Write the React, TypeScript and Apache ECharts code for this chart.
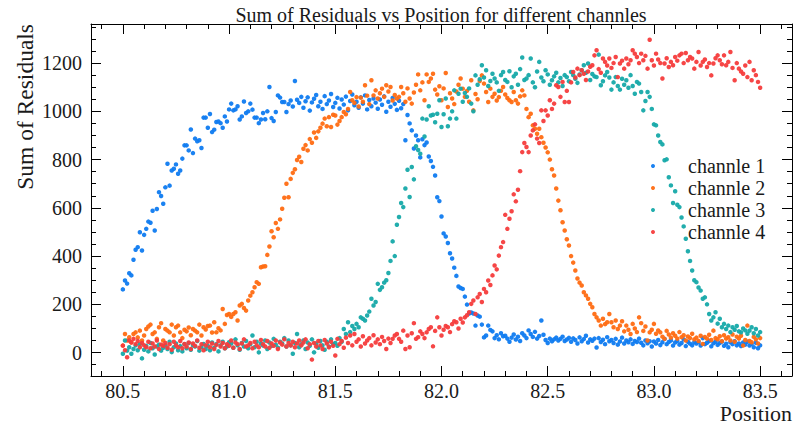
import React, { useEffect, useRef } from "react";
import * as echarts from "echarts";

// Sampling of the position axis (one point per channel at each step)
const positionStart = 80.5;
const positionStep = 0.01;

const channelNames = ["channle 1", "channle 2", "channle 3", "channle 4"];
const channelColors = ["#0F7BF0", "#FF6B12", "#16A9A9", "#F53C3C"];

const channle1 = [
  262, 299, 286, 329, 320, 385, 426, 437, 499, 423,
  488, 513, 543, 538, 588, 506, 595, 665, 649, 617,
  685, 783, 692, 755, 762, 780, 741, 755, 804, 859,
  859, 838, 925, 827, 887, 876, 880, 848, 974, 974,
  932, 989, 914, 924, 956, 958, 951, 932, 979, 958,
  1008, 1032, 1004, 1008, 1021, 966, 979, 1041, 993, 1000,
  1032, 1007, 974, 974, 951, 966, 993, 967, 1000, 1101,
  972, 960, 997, 1066, 1057, 1039, 1039, 997, 1030, 1045,
  1020, 1126, 1048, 1035, 1060, 1015, 1042, 1058, 1003, 1037,
  1052, 1068, 1021, 1040, 1010, 1063, 1030, 1045, 1072, 1018,
  1035, 1056, 1012, 1049, 1028, 1061, 1004, 1043, 1070, 1025,
  1040, 1015, 1058, 1032, 1066, 1008, 1047, 1021, 1053, 1036,
  1011, 1049, 1027, 1062, 998, 1040, 1019, 1055, 1031, 1006,
  1044, 1013, 1030, 880, 985, 950, 921, 846, 900, 880,
  809, 884, 860, 871, 813, 794, 770, 734, 644, 628,
  564, 494, 481, 454, 412, 390, 352, 318, 274, 268,
  264, 232, 199, 162, 166, 162, 112, 154, 149, 116,
  63, 71, 112, 94, 88, 60, 72, 55, 80, 68,
  70, 58, 45, 62, 75, 54, 66, 48, 80, 71,
  60, 92, 77, 65, 86, 58, 69, 133, 74, 52,
  40, 58, 47, 55, 62, 50, 57, 66, 48, 54,
  61, 45, 59, 52, 38, 63, 47, 56, 70, 42,
  55, 49, 58, 21, 60, 44, 53, 35, 64, 47,
  52, 40, 57, 33, 46, 62, 38, 50, 43, 55,
  36, 48, 44, 58, 41, 30, 50, 39, 47, 25,
  46, 38, 52, 31, 43, 57, 35, 44, 50, 29,
  42, 48, 33, 40, 55, 27, 45, 37, 30, 43,
  38, 44, 29, 60, 35, 41, 48, 26, 39, 45,
  32, 40, 46, 28, 37, 22, 43, 35, 47, 30,
  38, 27, 42, 33, 45, 29, 36, 22, 41, 18,
  30,
];

const channle2 = [
  29, 77, 50, 64, 43, 77, 84, 63, 91, 50,
  71, 98, 108, 116, 77, 84, 57, 105, 122, 50,
  98, 91, 84, 116, 71, 105, 112, 84, 60, 95,
  88, 104, 72, 98, 91, 84, 116, 71, 105, 96,
  110, 112, 83, 126, 84, 101, 92, 181, 119, 156,
  160, 148, 160, 167, 133, 195, 202, 185, 174, 216,
  236, 250, 271, 292, 285, 354, 357, 358, 405, 440,
  503, 478, 537, 513, 552, 596, 642, 700, 644, 720,
  745, 760, 798, 812, 790, 845, 860, 838, 885, 870,
  912, 890, 917, 932, 949, 970, 938, 976, 935, 986,
  983, 945, 960, 976, 997, 988, 1010, 1080, 1046, 1035,
  1059, 1020, 1057, 1040, 1108, 1065, 1030, 1129, 1066, 1087,
  1053, 1075, 1094, 1060, 1108, 1082, 1101, 1045, 1068, 1053,
  1060, 1101, 1075, 1040, 1095, 1053, 1032, 1078, 1110, 1153,
  1087, 1120, 1046, 1153, 1122, 1136, 1156, 1090, 1070, 1104,
  1046, 1095, 1159, 1018, 1075, 1053, 1030, 1082, 1110, 1136,
  1094, 1060, 1085, 1040, 1129, 1004, 1072, 1050, 1126, 1149,
  1115, 1080, 1039, 1094, 1060, 1073, 1045, 1059, 1085, 1101,
  1070, 1055, 1046, 1039, 1080, 1046, 1032, 1062, 1087, 1066,
  1010, 976, 990, 942, 928, 907, 928, 893, 870, 850,
  830, 800, 760, 734, 680, 630, 590, 540, 506, 470,
  444, 400, 373, 340, 307, 290, 278, 250, 237, 223,
  202, 188, 160, 146, 133, 112, 140, 118, 126, 160,
  126, 105, 133, 98, 112, 130, 88, 112, 95, 77,
  119, 100, 85, 146, 122, 90, 108, 50, 84, 95,
  119, 78, 92, 84, 66, 57, 90, 75, 62, 80,
  70, 58, 85, 64, 72, 50, 67, 60, 78, 55,
  62, 48, 70, 36, 65, 58, 74, 52, 91, 60,
  55, 68, 47, 72, 58, 64, 50, 75, 45, 66,
  58, 70, 29, 52, 112, 48, 43, 65, 55, 38,
  60,
];

const channle3 = [
  -5, 50, 8, 22, -5, 15, 30, 10, 35, -24,
  12, 28, 5, 40, 18, -8, 25, 33, 8, 20,
  30, 15, 45, 2, 22, 38, 10, 27, 5, 35,
  18, 40, 12, 30, 25, 48, 8, 22, 36, 15,
  28, 10, 42, 20, 35, 5, 30, 45, 18, 25,
  43, 38, 20, 55, 30, 12, 40, 25, 48, 18,
  35, 71, 22, 45, 1, 38, 29, 50, 15, 42,
  28, 57, 33, 20, 45, 38, 60, 25, 50, 30,
  -5, 40, 77, 22, 35, 50, 15, 42, 28, 55,
  1, 38, 20, 48, 30, 12, 45, 25, 55, 35,
  40, 28, 60, 45, 98, 77, 126, 85, 110, 98,
  119, 105, 146, 140, 133, 154, 170, 223, 195, 210,
  285, 260, 271, 290, 300, 330, 380, 461, 400, 530,
  562, 620, 603, 680, 758, 645, 769, 718, 855, 840,
  824, 970, 896, 966, 1021, 983, 986, 955, 990, 1046,
  935, 988, 1053, 938, 970, 1000, 1087, 970, 1073, 1094,
  1040, 1076, 1060, 1095, 1032, 1000, 1149, 1110, 1133, 1191,
  1140, 1170, 1105, 1126, 1156, 1136, 1120, 1085, 1150, 1163,
  1130, 1122, 1166, 1100, 1145, 1156, 1110, 1175, 1223, 1130,
  1136, 1150, 1219, 1120, 1100, 1165, 1205, 1140, 1125, 1170,
  1153, 1110, 1129, 1145, 1160, 1120, 1138, 1105, 1150, 1142,
  1125, 1163, 1150, 1135, 1118, 1153, 1170, 1191, 1160, 1198,
  1130, 1155, 1145, 1142, 1235, 1108, 1125, 1149, 1163, 1140,
  1090, 1120, 1142, 1105, 1090, 1135, 1110, 1129, 1098, 1150,
  1105, 1073, 1122, 1115, 1080, 1004, 1043, 1080, 1060, 1010,
  946, 942, 900, 873, 863, 797, 801, 727, 693, 620,
  669, 613, 603, 560, 523, 472, 420, 380, 340, 300,
  292, 270, 257, 223, 229, 200, 160, 133, 146, 167,
  120, 140, 105, 119, 98, 112, 85, 105, 95, 110,
  88, 84, 100, 92, 78, 91, 105, 80, 98, 71,
  85,
];

const channle4 = [
  29, 10, -19, 50, 42, 57, 35, 48, 22, 40,
  30, 22, 45, 18, 38, 25, 50, 15, 33, 28,
  40, 20, 35, 12, 45, 30, 22, 48, 18, 36,
  25, 42, 15, 38, 28, 50, 20, 35, 10, 30,
  45, 22, 38, 15, 32, 48, 25, 40, 18, 35,
  28, 50, 20, 42, 35, 15, 38, 55, 25, 30,
  40, 18, 45, 30, 22, 52, 35, 25, 48, 20,
  38, 28, 50, 15, 42, 33, 55, 25, 40, 30,
  45, 22, 38, 50, 30, 42, 55, 18, 35, -29,
  40, 25, 48, 30, 15, 52, 38, 22, 45, 28,
  -12, 57, 35, 48, 20, 62, 40, 71, 30, 77,
  45, 55, 25, 68, 38, 50, 60, 30, 72, 42,
  55, 35, 65, 48, 15, 58, 40, 57, 71, 77,
  57, 45, 91, 15, 71, 22, 80, 122, 57, 64,
  88, 77, 60, 84, 98, 105, 26, 90, 146, 105,
  71, 95, 110, 105, 85, 118, 130, 126, 100, 140,
  125, 146, 155, 167, 202, 216, 160, 229, 243, 210,
  264, 250, 299, 280, 320, 361, 345, 402, 437, 458,
  571, 513, 555, 586, 656, 627, 675, 752, 831, 869,
  852, 831, 900, 921, 946, 887, 869, 1004, 960, 1004,
  983, 1046, 1010, 1032, 1108, 1101, 1060, 1122, 1039, 1085,
  1039, 1120, 1163, 1140, 1177, 1150, 1170, 1156, 1130, 1165,
  1185, 1191, 1232, 1253, 1175, 1160, 1219, 1205, 1190, 1219,
  1180, 1200, 1225, 1142, 1198, 1210, 1177, 1219, 1195, 1212,
  1253, 1239, 1225, 1200, 1239, 1212, 1230, 1177, 1297, 1212,
  1190, 1239, 1215, 1200, 1136, 1198, 1220, 1184, 1205, 1191,
  1225, 1210, 1232, 1239, 1200, 1242, 1212, 1225, 1219, 1177,
  1205, 1246, 1190, 1205, 1215, 1184, 1200, 1149, 1198, 1220,
  1232, 1212, 1195, 1232, 1191, 1205, 1246, 1180, 1129, 1200,
  1177, 1165, 1156, 1190, 1142, 1205, 1129, 1170, 1150, 1122,
  1098,
];

const channels = [channle1, channle2, channle3, channle4];

const xMajorTicks = [80.5, 81.0, 81.5, 82.0, 82.5, 83.0, 83.5];
const xMinorTicks = [
  80.4, 80.5, 80.6, 80.7, 80.8, 80.9, 81.0, 81.1, 81.2, 81.3, 81.4, 81.5,
  81.6, 81.7, 81.8, 81.9, 82.0, 82.1, 82.2, 82.3, 82.4, 82.5, 82.6, 82.7,
  82.8, 82.9, 83.0, 83.1, 83.2, 83.3, 83.4, 83.5, 83.6,
];
const yMajorTicks = [0, 200, 400, 600, 800, 1000, 1200];
const yMinorTicks = [
  -50, 0, 50, 100, 150, 200, 250, 300, 350, 400, 450, 500, 550, 600, 650,
  700, 750, 800, 850, 900, 950, 1000, 1050, 1100, 1150, 1200, 1250, 1300, 1350,
];

const xMin = 80.35;
const xMax = 83.65;
const yMin = -97;
const yMax = 1362;

const FONT = "'Liberation Serif', 'Times New Roman', 'DejaVu Serif', serif";
const TEXT = "#1a1a1a";

function makeAxis(kind: "x" | "y", position: string, major: boolean, labels: boolean) {
  const ticks = kind === "x" ? (major ? xMajorTicks : xMinorTicks) : major ? yMajorTicks : yMinorTicks;
  return {
    type: "value",
    position,
    min: kind === "x" ? xMin : yMin,
    max: kind === "x" ? xMax : yMax,
    axisLine: { show: major, onZero: false, lineStyle: { color: "#000", width: 1 } },
    axisTick: {
      show: true,
      inside: true,
      length: major ? 10 : 5,
      customValues: ticks,
      lineStyle: { color: "#000", width: 1 },
    },
    minorTick: { show: false },
    splitLine: { show: false },
    axisLabel: labels
      ? {
          show: true,
          customValues: ticks,
          fontFamily: FONT,
          fontSize: 20,
          lineHeight: 18,
          color: TEXT,
          margin: kind === "x" ? 6 : 9,
          formatter: (v: number) => (kind === "x" ? v.toFixed(1) : String(Math.round(v))),
        }
      : { show: false },
  };
}

export default function App() {
  const ref = useRef<HTMLDivElement>(null);

  useEffect(() => {
    if (!ref.current) return;
    const chart = echarts.init(ref.current, undefined, { renderer: "svg" });

    const series = channels.map((vals, k) => ({
      name: channelNames[k],
      type: "scatter",
      xAxisIndex: 0,
      yAxisIndex: 0,
      symbol: "circle",
      symbolSize: 4.5,
      itemStyle: { color: channelColors[k], opacity: 0.95 },
      data: vals.map((v, i) => [+(positionStart + i * positionStep).toFixed(2), v]),
    }));

    chart.setOption({
      animation: false,
      backgroundColor: "#fff",
      title: {
        text: "Sum of Residuals vs Position for different channles",
        left: 436,
        top: 0,
        textAlign: "center",
        textStyle: { fontFamily: FONT, fontSize: 20, fontWeight: "normal", color: TEXT },
      },
      grid: { left: 91, right: 6, top: 24, bottom: 48, containLabel: false },
      legend: {
        orient: "vertical",
        left: 646,
        top: 151,
        itemWidth: 60,
        itemHeight: 4,
        itemGap: 2,
        icon: "circle",
        selectedMode: false,
        data: channelNames,
        textStyle: { fontFamily: FONT, fontSize: 20, color: TEXT, lineHeight: 20 },
      },
      xAxis: [
        makeAxis("x", "bottom", true, true),
        makeAxis("x", "bottom", false, false),
        makeAxis("x", "top", true, false),
        makeAxis("x", "top", false, false),
      ],
      yAxis: [
        makeAxis("y", "left", true, true),
        makeAxis("y", "left", false, false),
        makeAxis("y", "right", true, false),
        makeAxis("y", "right", false, false),
      ],
      graphic: [
        {
          type: "text",
          x: 25,
          y: 24,
          rotation: Math.PI / 2,
          style: {
            text: "Sum of Residuals",
            fontFamily: FONT,
            fontSize: 23.5,
            fill: TEXT,
            align: "right",
            verticalAlign: "middle",
            textAlign: "right",
            textVerticalAlign: "middle",
          },
        },
        {
          type: "text",
          x: 792,
          y: 413,
          style: {
            text: "Position",
            fontFamily: FONT,
            fontSize: 22,
            lineHeight: 16,
            fill: TEXT,
            align: "right",
            verticalAlign: "middle",
            textAlign: "right",
            textVerticalAlign: "middle",
          },
        },
      ],
      series,
    });

    return () => chart.dispose();
  }, []);

  return (
    <div
      ref={ref}
      style={{ position: "absolute", left: 0, top: 0, width: 798, height: 424 }}
    />
  );
}
